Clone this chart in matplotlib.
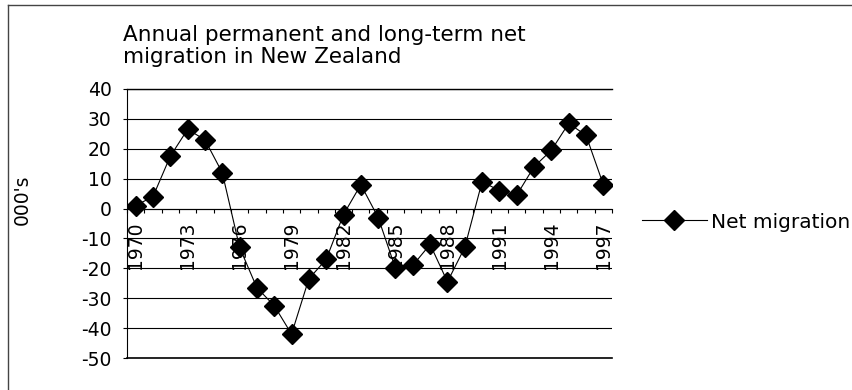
import matplotlib
matplotlib.use("Agg")
import matplotlib.pyplot as plt
from matplotlib.lines import Line2D

plt.rcParams['font.family'] = ['DejaVu Sans']

years = list(range(1970, 1998))
net_migration = [1, 4, 17.5, 26.5, 23, 12, -13, -26.5, -32.5, -42, -23.5, -17, -2, 8, -3,
                 -20, -19, -12, -24.5, -13, 9, 6, 4.5, 14, 19.5, 28.5, 24.5, 8]
y_ticks = [40, 30, 20, 10, 0, -10, -20, -30, -40, -50]
label_years = years[::3]

fig = plt.figure(figsize=(8.52, 3.9), dpi=100)
ax = fig.add_axes([127 / 852, 32 / 390, 485 / 852, 269 / 390])

x = list(range(len(years)))
ax.plot(x, net_migration, color='black', lw=0.8, marker='D', markersize=10,
        markerfacecolor='black', markeredgecolor='black', zorder=3)

ax.set_xlim(-0.5, len(years) - 0.5)
ax.set_ylim(-50, 40)
ax.set_yticks(y_ticks)
ax.set_yticklabels([str(v) for v in y_ticks])
ax.grid(axis='y', color='black', lw=0.8)
ax.axhline(-50, color='black', lw=1.2, clip_on=False)
ax.axhline(40, color='black', lw=1.0, clip_on=False)
ax.set_axisbelow(True)

for s in ['top', 'right']:
    ax.spines[s].set_visible(False)
ax.spines['left'].set_linewidth(0.8)
ax.spines['bottom'].set_position(('data', 0))
ax.spines['bottom'].set_linewidth(0.8)

# ticks between categories, labels every 3 years
ax.set_xticks([i - 0.5 for i in range(len(years) + 1)], minor=True)
ax.set_xticks([years.index(y) for y in label_years])
ax.set_xticklabels([str(y) for y in label_years], rotation=90)
ax.tick_params(axis='x', which='minor', length=3, width=0.8, direction='out')
ax.tick_params(axis='x', which='major', length=0, pad=9, labelsize=13.5)
ax.tick_params(axis='y', length=3, width=0.8, pad=8, labelsize=13.5)

fig.text(123 / 852, 1 - 46 / 390, 'Annual permanent and long-term net\nmigration in New Zealand',
         fontsize=15.5, ha='left', va='center', linespacing=1.15)
fig.text(22 / 852, 1 - 200 / 390, "000's", rotation=90, fontsize=13.5, ha='center', va='center')

# legend
handle = Line2D([0], [0], color='black', lw=0.8, marker='D', markersize=10,
                markerfacecolor='black', markeredgecolor='black')
fig.legend([handle], ['Net migration'], loc='center left',
           bbox_to_anchor=(634 / 852, 1 - 222 / 390), frameon=False,
           fontsize=14.5, handlelength=3.2, handletextpad=0.2, borderaxespad=0)

# outer chart border (extends past the picture)
fig.add_artist(Line2D([8 / 852, 8 / 852], [0, 1 - 5 / 390], color='#444444', lw=1, transform=fig.transFigure))
fig.add_artist(Line2D([8 / 852, 1], [1 - 5 / 390, 1 - 5 / 390], color='#444444', lw=1, transform=fig.transFigure))

fig.savefig('out.png', dpi=100)
